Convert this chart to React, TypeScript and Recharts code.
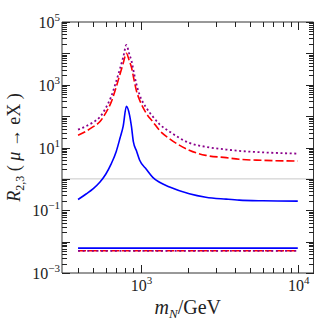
import { LineChart, Line, XAxis, YAxis, ReferenceLine, Label } from "recharts";

const massGeV = [400, 450, 500, 550, 600, 650, 700, 740, 775, 812, 850, 875, 900, 940, 985, 1090, 1200, 1320, 1530, 2040, 2600, 3500, 4240, 6000, 10000];
const r23Blue = [0.22, 0.33, 0.49, 0.78, 1.4, 3.0, 7.5, 20, 48, 205, 110, 46, 15, 8, 4, 2.0, 1.1, 0.78, 0.55, 0.335, 0.26, 0.226, 0.21, 0.2, 0.195];
const r23Red = [24.6, 33, 46, 66, 126, 280, 850, 2200, 4800, 10000, 5500, 3600, 1800, 650, 330, 120, 65, 35, 19, 8.2, 5.6, 4.75, 4.2, 3.9, 3.7];
const r23Purple = [37, 48, 64, 93, 180, 420, 1300, 3300, 7500, 18500, 9000, 5800, 2900, 1050, 480, 180, 95, 55, 32, 14, 10.5, 8.6, 7.8, 7.0, 6.4];

// the flat curves near the bottom
const flatMass = [400, 10000];
const flatBlue = [0.0062, 0.0062];
const flatRed = [0.0051, 0.0051];
const flatPurple = [0.0051, 0.0051];

const xMajor = [1000, 10000];
const xMinor = [400, 500, 600, 700, 800, 900, 2000, 3000, 4000, 5000, 6000, 7000, 8000, 9000];
const yDecades = [1e-3, 1e-2, 1e-1, 1, 10, 100, 1e3, 1e4, 1e5];
const yLabelled = [1e-3, 1e-1, 10, 1e3, 1e5];
const yMinor = yDecades.slice(0, -1).flatMap((d) => [2, 3, 4, 5, 6, 7, 8, 9].map((k) => k * d));

const rows = massGeV.map((m, i) => ({ m, blue: r23Blue[i], red: r23Red[i], purple: r23Purple[i] }));
const flatRows = flatMass.map((m, i) => ({ m, blue: flatBlue[i], red: flatRed[i], purple: flatPurple[i] }));

const W = 316;
const H = 322;
const FRAME = "#333";
const FONT = "'Liberation Serif', 'DejaVu Serif', serif";
const X0 = 316.2;
const X1 = 12589;
const Y0 = 1e-3;
const Y1 = 1e5;

// plot box, same numbers as the chart margin / axis sizes below
const LEFT = 62;
const RIGHT = W - 2.5;
const TOP = 22;
const BOTTOM = H - 49;

const expText = (v: number) => {
  const e = Math.round(Math.log10(v));
  return e < 0 ? "\u2212" + Math.abs(e) : String(e);
};
const isIn = (list: number[], v: number) => list.some((t) => Math.abs(t - v) / t < 1e-6);

const PowLabel = ({ x, y, v, anchor }: any) => (
  <text x={x} y={y} textAnchor={anchor} fontFamily={FONT} fontSize={16} fill="#222">
    10<tspan dy={-7} fontSize={11}>{expText(v)}</tspan>
  </text>
);

const bottomLabel = (p: any) => <PowLabel x={p.x + 1} y={p.y + 18} v={p.payload.value} anchor="middle" />;
const leftLabel = (p: any) =>
  isIn(yLabelled, p.payload.value) ? <PowLabel x={p.x - 2} y={p.y + 6} v={p.payload.value} anchor="end" /> : <g />;

const XTitle = ({ viewBox }: any) => (
  <text x={viewBox.x + viewBox.width / 2} y={314} textAnchor="middle" fontFamily={FONT} fontSize={20} fill="#222">
    <tspan fontStyle="italic">m</tspan>
    <tspan fontStyle="italic" fontSize={13} dy={4}>N</tspan>
    <tspan dy={-4}>/GeV</tspan>
  </text>
);

const YTitle = ({ viewBox }: any) => {
  const cx = 20;
  const cy = viewBox.y + viewBox.height / 2;
  return (
    <text x={cx} y={cy} transform={`rotate(-90, ${cx}, ${cy})`} textAnchor="middle" fontFamily={FONT} fontSize={18} fill="#222">
      <tspan fontStyle="italic">R</tspan>
      <tspan fontSize={12} dy={4}>2,3</tspan>
      <tspan dy={-4}> ( </tspan>
      <tspan fontStyle="italic">μ</tspan>
      <tspan> → eX )</tspan>
    </text>
  );
};

// inward frame ticks on all four sides, snapped to the pixel grid
function FrameTicks() {
  const snap = (v: number) => Math.round(v) + 0.5;
  const lx = (v: number) => LEFT + ((Math.log10(v) - Math.log10(X0)) / (Math.log10(X1) - Math.log10(X0))) * (RIGHT - LEFT);
  const ly = (v: number) => BOTTOM - ((Math.log10(v) - Math.log10(Y0)) / (Math.log10(Y1) - Math.log10(Y0))) * (BOTTOM - TOP);
  const xs = [...xMajor.map((t) => [t, 8]), ...xMinor.map((t) => [t, 5])];
  const ys = [...yDecades.map((t) => [t, 8]), ...yMinor.map((t) => [t, 5])];
  let d = "";
  xs.forEach(([t, len]) => {
    const x = snap(lx(t));
    d += `M${x},${BOTTOM}v${-len}M${x},${TOP}v${len}`;
  });
  ys.forEach(([t, len]) => {
    const y = snap(ly(t));
    d += `M${LEFT},${y}h${len}M${RIGHT},${y}h${-len}`;
  });
  return (
    <svg width={W} height={H} style={{ position: "absolute", left: 0, top: 0, pointerEvents: "none" }}>
      <path d={d} stroke="#222" strokeWidth={1.2} fill="none" shapeRendering="crispEdges" />
    </svg>
  );
}

export default function App() {
  return (
    <div style={{ position: "absolute", left: 0, top: 0, width: W, height: H, background: "#fff" }}>
      <LineChart width={W} height={H} data={rows} margin={{ top: TOP, right: 2.5, bottom: 0, left: 0 }}>
        <XAxis
          dataKey="m"
          type="number"
          scale="log"
          domain={[X0, X1]}
          allowDataOverflow
          ticks={xMajor}
          interval={0}
          tickSize={0}
          tickMargin={0}
          tickLine={false}
          tick={bottomLabel}
          height={49}
          stroke={FRAME}
        >
          <Label content={XTitle} />
        </XAxis>
        <YAxis
          type="number"
          scale="log"
          domain={[Y0, Y1]}
          allowDataOverflow
          ticks={yDecades}
          interval={0}
          tickSize={0}
          tickMargin={0}
          tickLine={false}
          tick={leftLabel}
          width={LEFT}
          stroke={FRAME}
        >
          <Label content={YTitle} />
        </YAxis>
        <ReferenceLine y={1} stroke="#c8c8c8" strokeWidth={1} />
        <ReferenceLine y={Y1} stroke={FRAME} strokeWidth={1} ifOverflow="visible" />
        <ReferenceLine x={X1} stroke={FRAME} strokeWidth={1} ifOverflow="visible" />
        <Line dataKey="blue" type="monotone" stroke="#0000ff" strokeWidth={1.6} dot={false} isAnimationActive={false} />
        <Line dataKey="red" type="monotone" stroke="#ff0000" strokeWidth={1.6} strokeDasharray="8 3" dot={false} isAnimationActive={false} />
        <Line dataKey="purple" type="monotone" stroke="#8b008b" strokeWidth={1.8} strokeDasharray="2 2.6" dot={false} isAnimationActive={false} />
        <Line data={flatRows} dataKey="blue" type="linear" stroke="#0000ff" strokeWidth={1.6} dot={false} isAnimationActive={false} />
        <Line data={flatRows} dataKey="red" type="linear" stroke="#ff0000" strokeWidth={1.6} strokeDasharray="8 3" dot={false} isAnimationActive={false} />
        <Line data={flatRows} dataKey="purple" type="linear" stroke="#8b008b" strokeWidth={1.8} strokeDasharray="2 2.6" dot={false} isAnimationActive={false} />
      </LineChart>
      <FrameTicks />
    </div>
  );
}
